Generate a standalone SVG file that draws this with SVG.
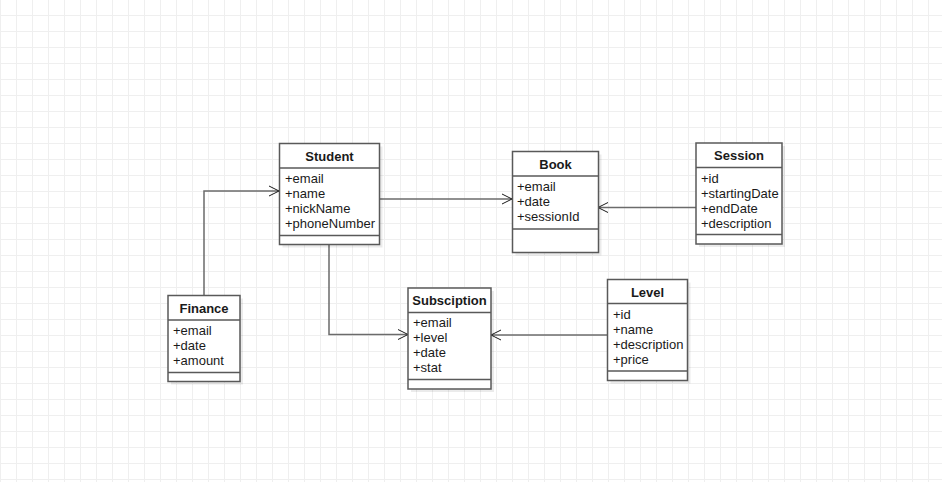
<svg xmlns="http://www.w3.org/2000/svg" width="942" height="482" viewBox="0 0 942 482">
<defs>
<pattern id="grid" width="16" height="16" patternUnits="userSpaceOnUse" x="0" y="-1">
<path d="M0.5 0V16M0 0.5H16" fill="none" stroke="#efefef" stroke-width="1"/>
</pattern>
<marker id="open" markerWidth="14" markerHeight="14" viewBox="0 0 14 14" refX="11" refY="7" orient="auto" markerUnits="userSpaceOnUse">
<path d="M1 2L11 7L1 12" fill="none" stroke="#1a1a1a" stroke-width="1"/>
</marker>
</defs>
<style>
.box{fill:#fff;stroke:#595959;stroke-width:1.5}
.sh{fill:#000;opacity:0.08}
.sep{stroke:#595959;stroke-width:1.5}
.t{font-family:"Liberation Sans",Arial,sans-serif;font-size:13px;fill:#1a1a1a}
.h{font-family:"Liberation Sans",Arial,sans-serif;font-size:13px;font-weight:bold;fill:#1a1a1a;text-anchor:middle}
.e{fill:none;stroke:#6b6b6b;stroke-width:1.5;marker-end:url(#open)}
</style>
<rect width="942" height="482" fill="#fff"/>
<rect width="942" height="482" fill="url(#grid)"/>

<g id="connectors">
<path class="e" d="M204 295V191H279"/>
<path class="e" d="M380 199H512"/>
<path class="e" d="M696 207.5H598"/>
<path class="e" d="M329 244V334.5H408"/>
<path class="e" d="M608 335H491"/>
</g>

<g id="student">
<rect class="sh" x="282.5" y="146.5" width="100" height="101"/>
<rect class="box" x="279.5" y="143.5" width="100" height="101"/>
<line class="sep" x1="279.5" y1="168" x2="379.5" y2="168"/>
<line class="sep" x1="279.5" y1="235.5" x2="379.5" y2="235.5"/>
<text class="h" x="329.5" y="160.5">Student</text>
<text class="t" x="285" y="183">+email</text>
<text class="t" x="285" y="198">+name</text>
<text class="t" x="285" y="213">+nickName</text>
<text class="t" x="285" y="228">+phoneNumber</text>
</g>

<g id="book">
<rect class="sh" x="515.5" y="154.5" width="86" height="101"/>
<rect class="box" x="512.5" y="151.5" width="86" height="101"/>
<line class="sep" x1="512.5" y1="176" x2="598.5" y2="176"/>
<line class="sep" x1="512.5" y1="229" x2="598.5" y2="229"/>
<text class="h" x="555.5" y="168.5">Book</text>
<text class="t" x="517" y="191">+email</text>
<text class="t" x="517" y="206">+date</text>
<text class="t" x="517" y="221">+sessionId</text>
</g>

<g id="session">
<rect class="sh" x="699" y="146" width="86" height="101"/>
<rect class="box" x="696" y="143" width="86" height="101"/>
<line class="sep" x1="696" y1="167.5" x2="782" y2="167.5"/>
<line class="sep" x1="696" y1="234.5" x2="782" y2="234.5"/>
<text class="h" x="739" y="160">Session</text>
<text class="t" x="701" y="183">+id</text>
<text class="t" x="701" y="198">+startingDate</text>
<text class="t" x="701" y="213">+endDate</text>
<text class="t" x="701" y="228">+description</text>
</g>

<g id="finance">
<rect class="sh" x="171" y="298.5" width="72" height="86"/>
<rect class="box" x="168" y="295.5" width="72" height="86"/>
<line class="sep" x1="168" y1="320" x2="240" y2="320"/>
<line class="sep" x1="168" y1="372.5" x2="240" y2="372.5"/>
<text class="h" x="204" y="312.5">Finance</text>
<text class="t" x="173" y="335">+email</text>
<text class="t" x="173" y="350">+date</text>
<text class="t" x="173" y="365">+amount</text>
</g>

<g id="subsciption">
<rect class="sh" x="411" y="291" width="83" height="101"/>
<rect class="box" x="408" y="288" width="83" height="101"/>
<line class="sep" x1="408" y1="312.5" x2="491" y2="312.5"/>
<line class="sep" x1="408" y1="379.5" x2="491" y2="379.5"/>
<text class="h" x="449.5" y="304.5">Subsciption</text>
<text class="t" x="413" y="327">+email</text>
<text class="t" x="413" y="342">+level</text>
<text class="t" x="413" y="357">+date</text>
<text class="t" x="413" y="372">+stat</text>
</g>

<g id="level">
<rect class="sh" x="610.5" y="282.5" width="80" height="101"/>
<rect class="box" x="607.5" y="279.5" width="80" height="101"/>
<line class="sep" x1="607.5" y1="303.5" x2="687.5" y2="303.5"/>
<line class="sep" x1="607.5" y1="371" x2="687.5" y2="371"/>
<text class="h" x="647.5" y="296.5">Level</text>
<text class="t" x="613" y="319">+id</text>
<text class="t" x="613" y="334">+name</text>
<text class="t" x="613" y="349">+description</text>
<text class="t" x="613" y="364">+price</text>
</g>
</svg>
